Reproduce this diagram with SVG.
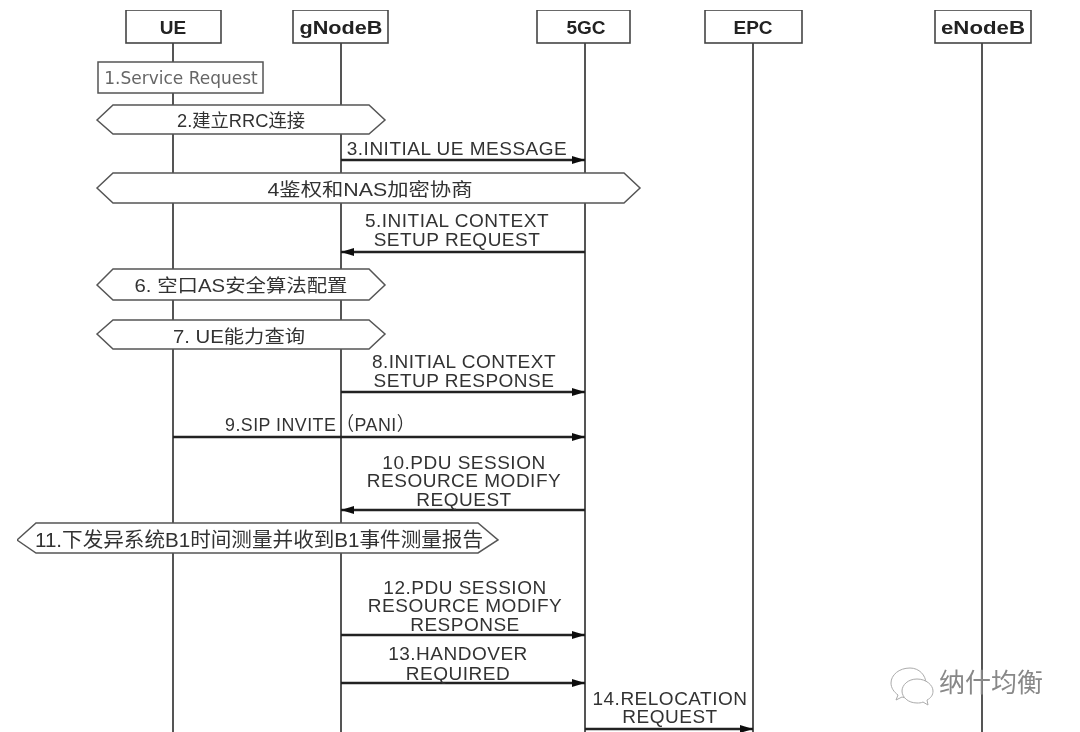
<svg xmlns="http://www.w3.org/2000/svg" width="1080" height="732" viewBox="0 0 1080 732">
<style>
.l{stroke:#555;stroke-width:2;fill:none}
.m{stroke:#222;stroke-width:2.6;fill:none}
.b{fill:#fff;stroke:#444;stroke-width:1.6}
.s{fill:#fff;stroke:#555;stroke-width:1.5}
text{font-family:"Liberation Sans","Noto Sans CJK SC",sans-serif;text-anchor:middle;fill:#333;font-size:18px}
.t{font-size:19px;letter-spacing:.5px}
.h{font-weight:bold;font-size:19px;fill:#222}
.g{fill:#666;font-family:"DejaVu Sans","Noto Sans CJK SC",sans-serif;font-size:17px}
.w{fill:#888;font-size:26px;text-anchor:start}
.i{fill:#fff;stroke:#aaa;stroke-width:1}
</style>
<defs>
<marker id="a" markerUnits="userSpaceOnUse" markerWidth="14" markerHeight="10" refX="13" refY="5" orient="auto"><path d="M0 1L13 5L0 9z" fill="#111"/></marker>
<filter id="f" x="0" y="0" width="1" height="1"><feGaussianBlur stdDeviation="0.7"/></filter>
</defs>
<rect width="1080" height="732" fill="#fff"/>
<g filter="url(#f)">
<g id="lifelines">
<path class="l" d="M173 43V732M341 43V732M585 43V732M753 43V732M982 43V732"/>
</g>
<g id="node-ue"><rect class="b" x="126" y="10" width="95" height="33"/><text class="h" x="173" y="34">UE</text></g>
<g id="node-gnodeb"><rect class="b" x="293" y="10" width="95" height="33"/><text class="h" x="341" y="34" textLength="83" lengthAdjust="spacingAndGlyphs">gNodeB</text></g>
<g id="node-5gc"><rect class="b" x="537" y="10" width="93" height="33"/><text class="h" x="586" y="34">5GC</text></g>
<g id="node-epc"><rect class="b" x="705" y="10" width="97" height="33"/><text class="h" x="753" y="34">EPC</text></g>
<g id="node-enodeb"><rect class="b" x="935" y="10" width="96" height="33"/><text class="h" x="983" y="34" textLength="84" lengthAdjust="spacingAndGlyphs">eNodeB</text></g>
<g id="step-1"><rect class="s" x="98" y="62" width="165" height="31"/><text class="g" x="181" y="84">1.Service Request</text></g>
<g id="step-2"><path class="s" d="M97 120L113 105H369L385 120L369 134H113z"/><text x="241" y="127" textLength="128" lengthAdjust="spacingAndGlyphs">2.建立RRC连接</text></g>
<g id="step-4"><path class="s" d="M97 188L113 173H624L640 188L624 203H113z"/><text x="370" y="196" textLength="205" lengthAdjust="spacingAndGlyphs">4鉴权和NAS加密协商</text></g>
<g id="step-6"><path class="s" d="M97 285L113 269H369L385 285L369 300H113z"/><text x="241" y="292" textLength="213" lengthAdjust="spacingAndGlyphs">6. 空口AS安全算法配置</text></g>
<g id="step-7"><path class="s" d="M97 334L113 320H369L385 334L369 349H113z"/><text x="239" y="343" textLength="132" lengthAdjust="spacingAndGlyphs">7. UE能力查询</text></g>
<g id="step-11"><path class="s" d="M17 540L36 523H478L498 540L478 553H36z"/><text x="259" y="547" style="font-size:20px" textLength="448" lengthAdjust="spacingAndGlyphs">11.下发异系统B1时间测量并收到B1事件测量报告</text></g>
<g id="connectors">
<path class="m" marker-end="url(#a)" d="M341 160H585"/>
<path class="m" marker-end="url(#a)" d="M585 252H341"/>
<path class="m" marker-end="url(#a)" d="M341 392H585"/>
<path class="m" marker-end="url(#a)" d="M173 437H585"/>
<path class="m" marker-end="url(#a)" d="M585 510H341"/>
<path class="m" marker-end="url(#a)" d="M341 635H585"/>
<path class="m" marker-end="url(#a)" d="M341 683H585"/>
<path class="m" marker-end="url(#a)" d="M585 729H753"/>
</g>
<g id="labels">
<text class="t" x="457" y="155">3.INITIAL UE MESSAGE</text>
<text class="t" x="457" y="227">5.INITIAL CONTEXT</text>
<text class="t" x="457" y="246">SETUP REQUEST</text>
<text class="t" x="464" y="368">8.INITIAL CONTEXT</text>
<text class="t" x="464" y="387">SETUP RESPONSE</text>
<text class="t" x="320" y="431" textLength="190" lengthAdjust="spacingAndGlyphs">9.SIP INVITE（PANI）</text>
<text class="t" x="464" y="469">10.PDU SESSION</text>
<text class="t" x="464" y="487">RESOURCE MODIFY</text>
<text class="t" x="464" y="506">REQUEST</text>
<text class="t" x="465" y="594">12.PDU SESSION</text>
<text class="t" x="465" y="612">RESOURCE MODIFY</text>
<text class="t" x="465" y="631">RESPONSE</text>
<text class="t" x="458" y="660">13.HANDOVER</text>
<text class="t" x="458" y="680">REQUIRED</text>
<text class="t" x="670" y="705">14.RELOCATION</text>
<text class="t" x="670" y="723">REQUEST</text>
</g>
<g id="watermark">
<path class="i" d="M910 668c-11 0-19 7-19 15 0 5 3 9 7 12l-2 5 6-3c3 1 5 1 8 1 9 0 16-6 16-14 0-9-7-16-16-16z"/>
<path class="i" d="M917 679c-9 0-15 6-15 12s6 12 15 12c2 0 4 0 6-1l5 3-1-5c4-2 6-5 6-9 0-6-7-12-16-12z"/>
<text class="w" x="939" y="692">纳什均衡</text>
</g>
</g>
</svg>
